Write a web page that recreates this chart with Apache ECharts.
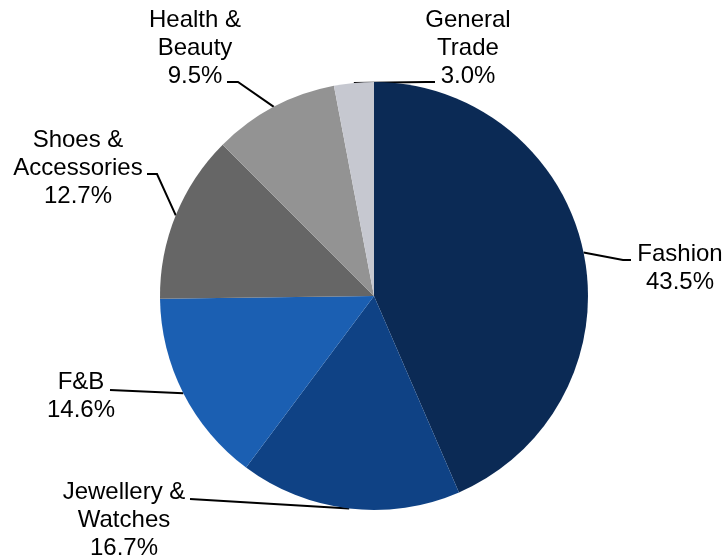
<!DOCTYPE html>
<html>
<head>
<meta charset="utf-8">
<script src="https://cdn.jsdelivr.net/npm/echarts@6/dist/echarts.min.js"></script>
<style>
  html, body { margin: 0; padding: 0; background: #ffffff; }
  #chart { width: 726px; height: 559px; }
</style>
</head>
<body>
<div id="chart"></div>
<script>
// Sales mix by trade category (share of total, %)
const categories = ['Fashion', 'Jewellery &\nWatches', 'F&B', 'Shoes &\nAccessories', 'Health &\nBeauty', 'General\nTrade'];
const shares = [43.5, 16.7, 14.6, 12.7, 9.5, 3.0];
const sliceColors = ['#0b2a55', '#0f4285', '#1b5fb2', '#666666', '#939393', '#c6c8d0'];

// Pie geometry
const PIE_CENTER = [374, 296];
const PIE_RADIUS = 214;

// Label block centres and leader-line bend / end points
const labelSpots = [
  { x: 680, y: 268, bend: [623, 260], end: [631, 260] },
  { x: 124, y: 520, bend: null,       end: [190, 499] },
  { x: 81,  y: 396, bend: null,       end: [110, 390] },
  { x: 78,  y: 168, bend: [157, 174], end: [147, 174] },
  { x: 195, y: 48,  bend: [238, 82],  end: [227, 82] },
  { x: 468, y: 48,  bend: [426, 82],  end: [435, 82] }
];

const total = shares.reduce((a, b) => a + b, 0);
// mid-angle point of each slice on the outer edge
function edgePoint(idx) {
  let before = 0;
  for (let i = 0; i < idx; i++) before += shares[i];
  const frac = (before + shares[idx] / 2) / total;
  const ang = frac * Math.PI * 2; // clockwise from 12 o'clock
  return [PIE_CENTER[0] + PIE_RADIUS * Math.sin(ang), PIE_CENTER[1] - PIE_RADIUS * Math.cos(ang)];
}

const chart = echarts.init(document.getElementById('chart'), null, { renderer: 'canvas' });

chart.setOption({
  backgroundColor: '#ffffff',
  animation: false,
  series: [{
    type: 'pie',
    center: PIE_CENTER,
    radius: PIE_RADIUS,
    startAngle: 90,
    clockwise: true,
    avoidLabelOverlap: false,
    silent: true,
    data: categories.map((name, i) => ({
      name: name,
      value: shares[i],
      itemStyle: { color: sliceColors[i] }
    })),
    itemStyle: { borderWidth: 0 },
    label: {
      show: true,
      position: 'outside',
      color: '#000000',
      fontFamily: '"Liberation Sans", Arial, sans-serif',
      fontSize: 24,
      lineHeight: 28,
      align: 'center',
      formatter: p => p.name + '\n' + p.value.toFixed(1) + '%'
    },
    labelLine: {
      show: true,
      length: 10,
      length2: 10,
      smooth: false,
      lineStyle: { color: '#000000', width: 2 }
    },
    labelLayout: function (params) {
      const s = labelSpots[params.dataIndex];
      const start = edgePoint(params.dataIndex);
      const pts = s.bend ? [start, s.bend, s.end] : [start, s.end];
      return {
        x: s.x,
        y: s.y,
        align: 'center',
        verticalAlign: 'middle',
        labelLinePoints: pts
      };
    },
    emphasis: { disabled: true }
  }]
});
</script>
</body>
</html>
